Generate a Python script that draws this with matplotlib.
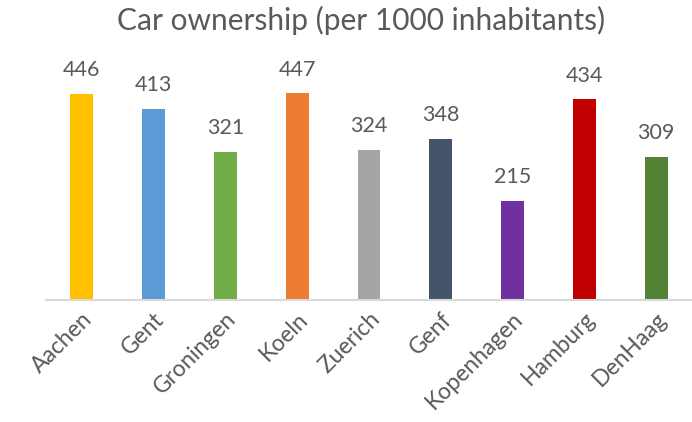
import matplotlib
matplotlib.use("Agg")
import matplotlib.pyplot as plt

cities = ["Aachen", "Gent", "Groningen", "Koeln", "Zuerich", "Genf",
          "Kopenhagen", "Hamburg", "DenHaag"]
cars_per_1000 = [446, 413, 321, 447, 324, 348, 215, 434, 309]
bar_colors = ["#FFC000", "#5B9BD5", "#70AD47", "#ED7D31", "#A5A5A5",
              "#44546A", "#7030A0", "#C00000", "#548235"]

plt.rcParams["font.family"] = ["Lato", "DejaVu Sans"]
text_color = "#595959"

fig = plt.figure(figsize=(6.92, 4.22), dpi=100)
ax = fig.add_axes([46 / 692, 1 - 300 / 422, 646 / 692, 231 / 422])

x = range(len(cities))
bars = ax.bar(x, cars_per_1000, width=0.32, color=bar_colors)
ax.set_xlim(-0.5, len(cities) - 0.5)
ax.set_ylim(0, 500)

for rect, v in zip(bars, cars_per_1000):
    ax.annotate(f"{v}", (rect.get_x() + rect.get_width() / 2, v),
                xytext=(0, 10), textcoords="offset points",
                ha="center", va="bottom", fontsize=15.5, color=text_color)

ax.set_yticks([])
ax.set_xticks(list(x))
ax.set_xticklabels(cities, rotation=45, ha="right", rotation_mode="anchor",
                   fontsize=16.5, color=text_color)
ax.tick_params(axis="x", length=0, pad=6)

for side in ["top", "right", "left"]:
    ax.spines[side].set_visible(False)
ax.spines["bottom"].set_color("#D9D9D9")
ax.spines["bottom"].set_linewidth(1.5)

fig.text(0.522, 1 - 20 / 422, "Car ownership (per 1000 inhabitants)",
         ha="center", va="center", fontsize=21.5, color=text_color)

fig.savefig("out.png", dpi=100, facecolor="white")
